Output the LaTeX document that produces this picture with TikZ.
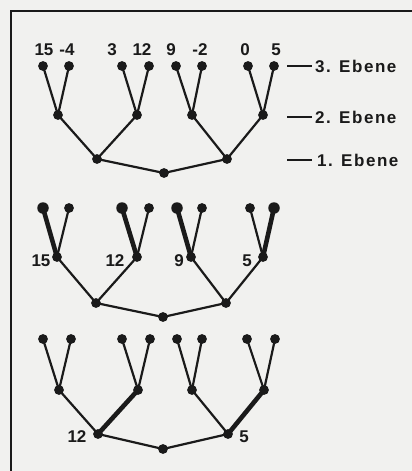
\documentclass[tikz,border=0pt]{standalone}
\usepackage{fontspec}
\setmainfont{Liberation Sans}
\newfontfamily\numfont{Liberation Sans Bold}
\newfontfamily\lvlfont[LetterSpace=9]{Liberation Sans Bold}
\definecolor{ink}{HTML}{1A1A1A}
\definecolor{paper}{HTML}{F1F1EF}
\pgfdeclarelayer{bg}
\pgfsetlayers{bg,main}
\begin{document}
\begin{tikzpicture}[x=1pt,y=-1pt,
  dot/.style={circle,fill=ink,inner sep=0pt,minimum size=9.8pt},
  bigdot/.style={dot,minimum size=11.5pt},
  edge/.style={draw=ink,line width=2.2pt},
  heavy/.style={draw=ink,line width=4.6pt},
  num/.style={font=\numfont\fontsize{17}{19}\selectfont,text=ink,inner sep=0pt},
  lvl/.style={font=\lvlfont\fontsize{17}{19}\selectfont,text=ink,inner sep=0pt,anchor=west},
  tick/.style={draw=ink,line width=1.6pt}]

% page and frame
\useasboundingbox (0,0) rectangle (412,471);
\begin{pgfonlayer}{bg}
  \fill[paper] (0,0) rectangle (412,471);
  \draw[ink,line width=2pt] (11,471) -- (11,11) -- (412,11);
\end{pgfonlayer}

% ---------- tree 1: leaf values and levels ----------
\foreach \i/\x/\s in {1/43/dot,2/69/dot,3/122/dot,4/149/dot,5/176/dot,6/202/dot,7/248/dot,8/274/dot}
  \node[\s] (a-l\i) at (\x,66) {};
\foreach \i/\x in {1/58,2/137,3/192,4/263}
  \node[dot] (a-m\i) at (\x,115) {};
\node[dot] (a-n1) at (97,159) {};
\node[dot] (a-n2) at (227,159) {};
\node[dot] (a-r) at (164,173) {};

\foreach \x/\txt [count=\i] in {44/15,67/-4,112/3,142/12,171/9,200/-2,245/0,276/5}
  \node[num] (v\i) at (\x,50) {\txt};

\coordinate (e3s) at (287,66);
\coordinate (e2s) at (287,117);
\coordinate (e1s) at (287,160);
\node[lvl] (e3) at (315,66) {3. Ebene};
\node[lvl] (e2) at (315,117) {2. Ebene};
\node[lvl] (e1) at (317,160) {1. Ebene};
\draw[tick] (e3s) -- ([xshift=-3pt]e3.west);
\draw[tick] (e2s) -- ([xshift=-3pt]e2.west);
\draw[tick] (e1s) -- ([xshift=-5pt]e1.west);

% ---------- tree 2: maxima on the 2nd level ----------
\foreach \i/\x/\s in {1/43/bigdot,2/69/dot,3/122/bigdot,4/149/dot,5/177/bigdot,6/202/dot,7/250/dot,8/274/bigdot}
  \node[\s] (b-l\i) at (\x,208) {};
\foreach \i/\x in {1/57,2/137,3/191,4/263}
  \node[dot] (b-m\i) at (\x,257) {};
\node[dot] (b-n1) at (96,303) {};
\node[dot] (b-n2) at (226,303) {};
\node[dot] (b-r) at (163,317) {};

\node[num] (w1) at (41,261) {15};
\node[num] (w2) at (115,261) {12};
\node[num] (w3) at (179,261) {9};
\node[num] (w4) at (247,261) {5};

% ---------- tree 3: minima on the 1st level ----------
\foreach \i/\x/\s in {1/43/dot,2/71/dot,3/122/dot,4/150/dot,5/177/dot,6/202/dot,7/247/dot,8/275/dot}
  \node[\s] (c-l\i) at (\x,339) {};
\foreach \i/\x in {1/59,2/138,3/192,4/264}
  \node[dot] (c-m\i) at (\x,390) {};
\node[dot] (c-n1) at (98,434) {};
\node[dot] (c-n2) at (228,434) {};
\node[dot] (c-r) at (163,449) {};

\node[num] (u1) at (77,437) {12};
\node[num] (u2) at (244,437) {5};

% ---------- edges ----------
\begin{pgfonlayer}{bg}
  % tree 1
  \foreach \a/\b in {l1/m1,l2/m1,l3/m2,l4/m2,l5/m3,l6/m3,l7/m4,l8/m4,m1/n1,m2/n1,m3/n2,m4/n2,n1/r,n2/r}
    \draw[edge] (a-\a.center) -- (a-\b.center);
  % tree 2
  \foreach \a/\b in {l2/m1,l4/m2,l6/m3,l7/m4,m1/n1,m2/n1,m3/n2,m4/n2,n1/r,n2/r}
    \draw[edge] (b-\a.center) -- (b-\b.center);
  \foreach \a/\b in {l1/m1,l3/m2,l5/m3,l8/m4}
    \draw[heavy] (b-\a.center) -- (b-\b.center);
  % tree 3
  \foreach \a/\b in {l1/m1,l2/m1,l3/m2,l4/m2,l5/m3,l6/m3,l7/m4,l8/m4,m1/n1,m3/n2,n1/r,n2/r}
    \draw[edge] (c-\a.center) -- (c-\b.center);
  \foreach \a/\b in {m2/n1,m4/n2}
    \draw[heavy] (c-\a.center) -- (c-\b.center);
\end{pgfonlayer}
\end{tikzpicture}
\end{document}
